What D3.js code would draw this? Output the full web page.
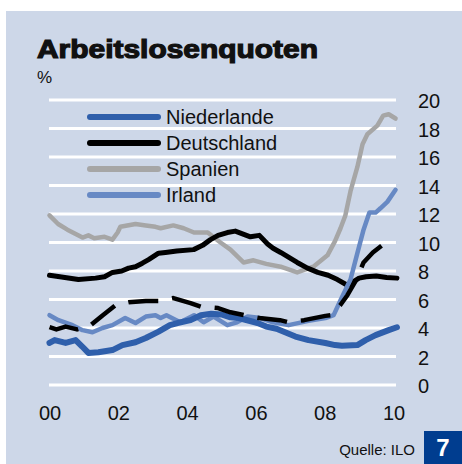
<!DOCTYPE html>
<html>
<head>
<meta charset="utf-8">
<script src="https://cdn.jsdelivr.net/npm/d3@7"></script>
<style>
  body { margin: 0; background: #fff; }
  svg { display: block; }
  text { font-family: "Liberation Sans", Arial, sans-serif; fill: #111; }
</style>
</head>
<body>
<div id="chart"></div>
<script>
// Arbeitslosenquoten in %, Quelle: ILO  ([Jahr, Wert])
const niederlande = [[2000.0,2.95],[2000.15,3.15],[2000.47,2.95],[2000.76,3.15],[2000.95,2.7],[2001.13,2.25],[2001.42,2.3],[2001.83,2.45],[2002.12,2.8],[2002.5,3.0],[2002.8,3.3],[2003.17,3.75],[2003.5,4.2],[2003.72,4.35],[2004.1,4.55],[2004.4,4.9],[2004.7,5.0],[2005.0,4.95],[2005.26,4.75],[2005.5,4.7],[2006.05,4.35],[2006.3,4.1],[2006.6,3.95],[2007.15,3.4],[2007.53,3.15],[2008.02,2.95],[2008.3,2.8],[2008.5,2.75],[2008.95,2.8],[2009.19,3.15],[2009.48,3.5],[2009.86,3.85],[2010.1,4.05]];
const deutschland = [[2000.0,7.7],[2000.3,7.6],[2000.84,7.4],[2001.34,7.5],[2001.6,7.6],[2001.83,7.9],[2002.1,8.0],[2002.3,8.2],[2002.5,8.3],[2002.7,8.55],[2002.88,8.8],[2003.17,9.25],[2003.37,9.3],[2003.7,9.4],[2004.19,9.5],[2004.45,9.8],[2004.68,10.2],[2004.9,10.5],[2005.17,10.7],[2005.4,10.8],[2005.84,10.4],[2006.1,10.5],[2006.34,9.9],[2006.5,9.6],[2006.72,9.3],[2007.2,8.6],[2007.5,8.2],[2007.8,7.9],[2008.1,7.7],[2008.37,7.4],[2008.66,7.0],[2008.8,7.2],[2009.0,7.5],[2009.2,7.6],[2009.5,7.65],[2009.8,7.55],[2010.1,7.5]];
const spanien = [[2000.0,11.9],[2000.25,11.3],[2000.52,10.9],[2000.96,10.35],[2001.13,10.5],[2001.3,10.3],[2001.6,10.4],[2001.83,10.2],[2001.98,10.7],[2002.06,11.1],[2002.5,11.3],[2002.8,11.2],[2003.08,11.1],[2003.23,11.0],[2003.6,11.2],[2003.9,11.0],[2004.2,10.7],[2004.6,10.7],[2004.97,10.0],[2005.26,9.5],[2005.64,8.6],[2005.93,8.75],[2006.3,8.5],[2006.72,8.3],[2007.2,7.9],[2007.67,8.3],[2008.08,9.1],[2008.3,10.1],[2008.46,11.0],[2008.6,11.9],[2008.75,13.6],[2008.95,15.3],[2009.1,16.9],[2009.24,17.6],[2009.53,18.2],[2009.7,18.9],[2009.86,19.0],[2010.06,18.7]];
const irland = [[2000.0,4.9],[2000.26,4.55],[2000.67,4.2],[2000.96,3.85],[2001.25,3.7],[2001.54,4.0],[2001.83,4.2],[2002.2,4.7],[2002.5,4.35],[2002.8,4.8],[2003.08,4.9],[2003.23,4.7],[2003.4,4.9],[2003.8,4.4],[2004.2,4.9],[2004.48,4.4],[2004.77,4.8],[2005.17,4.2],[2005.45,4.4],[2005.76,4.8],[2006.13,4.7],[2006.5,4.4],[2006.95,4.2],[2007.53,4.5],[2008.02,4.7],[2008.26,4.9],[2008.46,5.95],[2008.75,7.4],[2008.95,9.25],[2009.13,10.9],[2009.3,12.1],[2009.48,12.1],[2009.62,12.4],[2009.82,12.85],[2010.06,13.7]];
// black broken line (not in the legend)
const usa = [[2000.0,4.07],[2000.2,3.9],[2000.47,4.1],[2000.8,3.9],[2001.2,4.2],[2001.55,4.9],[2001.92,5.6],[2002.3,5.8],[2002.8,5.9],[2003.2,5.9],[2003.6,6.1],[2004.1,5.75],[2004.4,5.5],[2004.9,5.4],[2005.26,5.1],[2005.76,4.85],[2006.1,4.7],[2006.7,4.55],[2006.95,4.4],[2007.4,4.55],[2008.02,4.85],[2008.2,4.9],[2008.45,5.6],[2008.66,6.3],[2008.9,7.3],[2009.13,8.6],[2009.4,9.3],[2009.77,10.0]];

const yTicks = [0, 2, 4, 6, 8, 10, 12, 14, 16, 18, 20];
const xTicks = [2000, 2002, 2004, 2006, 2008, 2010];
const xTickLabels = ['00', '02', '04', '06', '08', '10'];
const legendNames = ['Niederlande', 'Deutschland', 'Spanien', 'Irland'];

const W = 462, H = 464;
const plot = {left: 49, right: 396, top: 100, bottom: 385};

const svg = d3.select('#chart').append('svg')
  .attr('width', W)
  .attr('height', H);

// background panel
svg.append('rect')
  .attr('x', 6).attr('y', 11)
  .attr('width', W - 6).attr('height', H - 11)
  .attr('fill', '#cdd7e8');

const x = d3.scaleLinear()
  .domain([2000, 2010])
  .range([49.5, 393.5]);
const y = d3.scaleLinear()
  .domain([0, 20])
  .range([plot.bottom, plot.top]);

// gridlines
svg.append('g')
  .selectAll('line')
  .data(yTicks)
  .join('line')
  .attr('x1', plot.left).attr('x2', plot.right)
  .attr('y1', d => y(d)).attr('y2', d => y(d))
  .attr('stroke', '#fff')
  .attr('stroke-width', 3);

// y axis on the right
const yAxis = svg.append('g')
  .attr('transform', `translate(${plot.right}, 1.5)`)
  .call(d3.axisRight(y).tickValues(yTicks).tickSize(0).tickPadding(22));
yAxis.select('.domain').remove();
yAxis.selectAll('text')
  .attr('font-size', 20)
  .attr('font-family', '"Liberation Sans", Arial, sans-serif')
  .attr('fill', '#111');

// x axis labels
const xAxis = svg.append('g')
  .attr('transform', `translate(0, 406)`)
  .call(d3.axisBottom(x).tickValues(xTicks).tickFormat((d, i) => xTickLabels[i]).tickSize(0).tickPadding(0));
xAxis.select('.domain').remove();
xAxis.selectAll('text')
  .attr('font-size', 20)
  .attr('font-family', '"Liberation Sans", Arial, sans-serif')
  .attr('fill', '#111');

const line = d3.line()
  .x(d => x(d[0]))
  .y(d => y(d[1]))
  .curve(d3.curveLinear);

const series = [
  {data: spanien, color: '#a6a6a6', width: 4.5},
  {data: deutschland, color: '#000', width: 5},
  {data: irland, color: '#6789c4', width: 4.5},
  {data: niederlande, color: '#2f5fab', width: 6},
  {data: usa, color: '#000', width: 4.5, dash: '30,14', cap: 'butt'}
];

svg.append('g')
  .selectAll('path')
  .data(series)
  .join('path')
  .attr('d', d => line(d.data))
  .attr('fill', 'none')
  .attr('stroke', d => d.color)
  .attr('stroke-width', d => d.width)
  .attr('stroke-linejoin', 'round')
  .attr('stroke-linecap', d => d.cap || 'round')
  .style('stroke-dasharray', d => d.dash || 'none');

// legend
const legendColors = ['#2f5fab', '#000', '#a6a6a6', '#6789c4'];
const legend = svg.append('g')
  .selectAll('g')
  .data(legendNames)
  .join('g')
  .attr('transform', (d, i) => `translate(0, ${117 + i * 26})`);
legend.append('line')
  .attr('x1', 90).attr('x2', 158)
  .attr('stroke', (d, i) => legendColors[i])
  .attr('stroke-width', 6)
  .attr('stroke-linecap', 'round');
legend.append('text')
  .attr('x', 166)
  .attr('y', 7)
  .attr('font-size', 20)
  .text(d => d);

// title
svg.append('text')
  .attr('x', 37).attr('y', 58)
  .attr('font-size', 26)
  .attr('font-weight', 'bold')
  .attr('stroke', '#111')
  .attr('stroke-width', 1.2)
  .attr('textLength', 281)
  .attr('lengthAdjust', 'spacingAndGlyphs')
  .text('Arbeitslosenquoten');

svg.append('text')
  .attr('x', 37).attr('y', 83)
  .attr('font-size', 17)
  .text('%');

// source + page number
svg.append('text')
  .attr('x', 415).attr('y', 455)
  .attr('text-anchor', 'end')
  .attr('font-size', 15)
  .text('Quelle: ILO');

svg.append('rect')
  .attr('x', 424).attr('y', 431)
  .attr('width', 38).attr('height', 33)
  .attr('fill', '#003d8f');
svg.append('text')
  .attr('x', 443).attr('y', 456)
  .attr('text-anchor', 'middle')
  .attr('font-size', 24)
  .attr('font-weight', 'bold')
  .style('fill', '#fff')
  .text('7');
</script>
</body>
</html>
